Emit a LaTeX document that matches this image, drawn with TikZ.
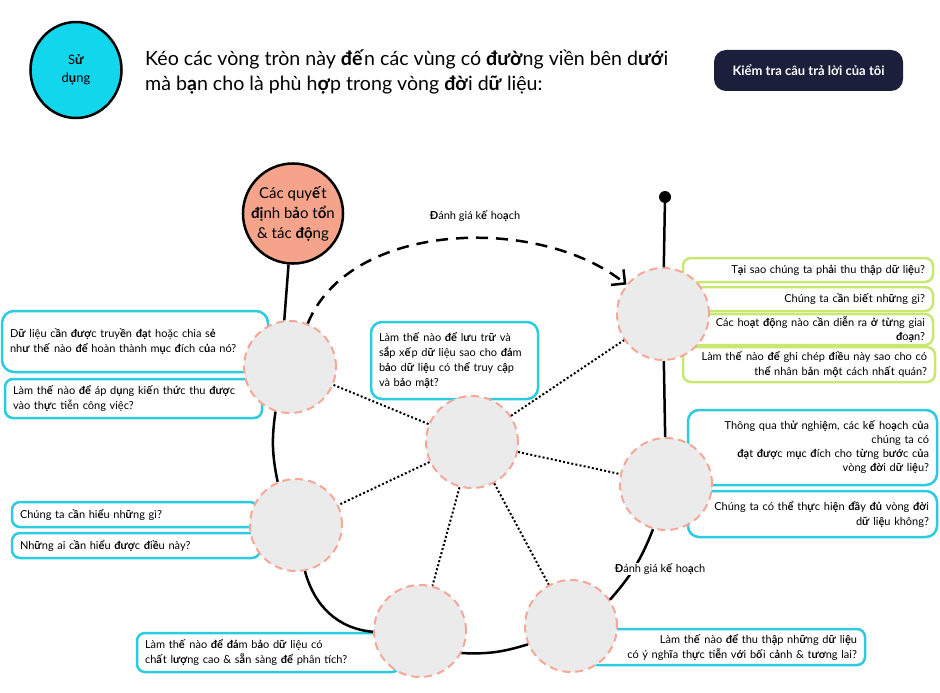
\documentclass[tikz,border=0pt]{standalone}
\usepackage{fontspec}
\setmainfont{Lato}
\usetikzlibrary{shapes.geometric,arrows.meta}
\definecolor{usecyan}{HTML}{12D6EC}
\definecolor{boxcyan}{HTML}{2CCBE0}
\definecolor{boxlime}{HTML}{C8E872}
\definecolor{impactfill}{HTML}{F5A48B}
\definecolor{slotrim}{HTML}{F5A898}
\definecolor{slotgray}{HTML}{EBEBEB}
\definecolor{navy}{HTML}{1B1F3B}
\newcommand\bd[1]{\textbf{#1}}

\begin{document}
\begin{tikzpicture}[x=1pt, y=-1pt,
    qbox/.style={draw=boxcyan, line width=2.5pt, rounded corners=8pt, fill=white, inner xsep=8pt, inner ysep=0pt, font=\fontsize{11}{15}\selectfont},
    gbox/.style={qbox, draw=boxlime},
    slot/.style={circle, draw=slotrim, fill=slotgray, minimum size=92pt, inner sep=0pt, line width=2pt, dash pattern=on 8pt off 5pt},
    loopline/.style={line width=2.5pt},
    link/.style={line width=2pt, dash pattern=on 2pt off 2.2pt},
    plan/.style={fill=white, inner sep=1pt, font=\fontsize{11}{13}\selectfont}]
    \useasboundingbox (0,0) rectangle (940,693);
    % header
    \node[ellipse, draw, line width=2.5pt, fill=usecyan, minimum width=91pt, minimum height=96pt, align=center, font=\fontsize{13}{18}\selectfont] (use) at (76,70) {S\bd{ử}\\d\bd{ụ}ng};
    \node[anchor=west, align=left, inner sep=0pt, font=\fontsize{19.6}{25}\selectfont] (heading) at (145,72) {Kéo các vòng tròn này \bd{đế}n các vùng có \bd{đườ}ng viền bên d\bd{ướ}i\\mà b\bd{ạ}n cho là phù h\bd{ợ}p trong vòng \bd{đờ}i d\bd{ữ} liệu:};
    \node[fill=navy, rounded corners=12pt, minimum width=189pt, minimum height=41pt, text=white, font=\fontsize{13}{15}\selectfont\bfseries] (check) at (808.5,70.5) {Kiểm tra câu trả lời của tôi};
    % question boxes
    \node[qbox, rounded corners=12pt, text width=250pt, minimum height=61pt, align=left] (qShare) at (135,341.5) {D\bd{ữ} liệu c\bd{ầ}n \bd{đượ}c truy\bd{ề}n \bd{đạ}t hoặc chia s\bd{ẻ}\\nh\bd{ư} th\bd{ế} nào \bd{để} hoàn thành m\bd{ụ}c \bd{đ}ích c\bd{ủ}a nó?};
    \node[qbox, text width=241pt, minimum height=39pt, align=left] (qApply) at (133.5,398.5) {Làm th\bd{ế} nào \bd{để} áp d\bd{ụ}ng ki\bd{ế}n th\bd{ứ}c thu \bd{đượ}c\\vào th\bd{ự}c tiễn công việc?};
    \node[qbox, text width=230pt, minimum height=25pt, align=left] (qNeed) at (135,514.5) {Chúng ta c\bd{ầ}n hi\bd{ể}u nh\bd{ữ}ng gì?};
    \node[qbox, text width=232pt, minimum height=25pt, align=left] (qWho) at (136,545.5) {Nh\bd{ữ}ng ai c\bd{ầ}n hi\bd{ể}u \bd{đượ}c \bd{đ}i\bd{ề}u này?};
    \node[qbox, text width=247pt, minimum height=39pt, align=left] (qQuality) at (268.5,652.5) {Làm th\bd{ế} nào \bd{để} \bd{đả}m b\bd{ả}o d\bd{ữ} liệu có\\ch\bd{ấ}t l\bd{ượ}ng cao \& s\bd{ẵ}n sàng \bd{để} phân tích?};
    \node[qbox, text width=259pt, minimum height=36pt, align=right] (qGather) at (727.5,647) {Làm th\bd{ế} nào \bd{để} thu th\bd{ậ}p nh\bd{ữ}ng d\bd{ữ} li\bd{ệ}u\\có ý ngh\bd{ĩ}a th\bd{ự}c ti\bd{ễ}n v\bd{ớ}i b\bd{ố}i c\bd{ả}nh \& t\bd{ươ}ng lai?};
    \node[qbox, rounded corners=11pt, text width=151pt, minimum height=77pt, align=left] (qStore) at (454.5,360.5) {Làm th\bd{ế} nào \bd{để} l\bd{ư}u tr\bd{ữ} và\\s\bd{ắ}p x\bd{ế}p d\bd{ữ} liệu sao cho \bd{đả}m\\b\bd{ả}o d\bd{ữ} li\bd{ệ}u có th\bd{ể} truy c\bd{ậ}p\\và b\bd{ả}o m\bd{ậ}t?};
    \node[gbox, text width=234pt, minimum height=24pt, align=right] (qWhy) at (808,270) {T\bd{ạ}i sao chúng ta ph\bd{ả}i thu th\bd{ậ}p d\bd{ữ} li\bd{ệ}u?};
    \node[gbox, text width=234pt, minimum height=24pt, align=right] (qKnow) at (808,299) {Chúng ta c\bd{ầ}n bi\bd{ế}t nh\bd{ữ}ng gì?};
    \node[gbox, text width=234pt, minimum height=31pt, align=right, font=\fontsize{11}{13.5}\selectfont] (qSteps) at (808,329.5) {Các ho\bd{ạ}t \bd{độ}ng nào c\bd{ầ}n di\bd{ễ}n ra \bd{ở} t\bd{ừ}ng giai\\\bd{đ}o\bd{ạ}n?};
    \node[gbox, text width=236pt, minimum height=35pt, align=right] (qRecord) at (809,364.5) {Làm th\bd{ế} nào \bd{để} ghi chép \bd{đ}i\bd{ề}u này sao cho có\\th\bd{ể} nhân b\bd{ả}n m\bd{ộ}t cách nh\bd{ấ}t quán?};
    \node[qbox, rounded corners=11pt, text width=233pt, minimum height=75pt, align=right, font=\fontsize{11}{14}\selectfont] (qTest) at (812.5,447.5) {Thông qua th\bd{ử} nghi\bd{ệ}m, các k\bd{ế} ho\bd{ạ}ch c\bd{ủ}a\\chúng ta có\\\bd{đạ}t \bd{đượ}c m\bd{ụ}c \bd{đ}ích cho t\bd{ừ}ng b\bd{ướ}c c\bd{ủ}a\\vòng \bd{đờ}i d\bd{ữ} li\bd{ệ}u?};
    \node[qbox, rounded corners=11pt, text width=233pt, minimum height=46pt, align=right] (qFull) at (812.5,514) {Chúng ta có th\bd{ể} th\bd{ự}c hi\bd{ệ}n \bd{đầ}y \bd{đủ} vòng \bd{đờ}i\\d\bd{ữ} li\bd{ệ}u không?};
    % lifecycle circles
    \node[circle, draw, line width=2.5pt, fill=impactfill, minimum size=98pt, inner sep=0pt, align=center, font=\fontsize{15}{20}\selectfont] (impact) at (293,213.5) {Các quy\bd{ế}t\\\bd{đị}nh b\bd{ả}o t\bd{ổ}n\\\& tác \bd{độ}ng};
    \node[slot] (share) at (290,367) {};
    \node[slot] (understand) at (296,525) {};
    \node[slot] (quality) at (420,631) {};
    \node[slot] (gather) at (571,626) {};
    \node[slot] (test) at (666,484) {};
    \node[slot] (plan) at (663,314) {};
    \node[slot] (store) at (472,442) {};
    \node[circle, fill=black, minimum size=12pt, inner sep=0pt] (start) at (665,197) {};
    % connectors
    \draw[loopline] (impact.265) -- (share.97);
    \draw[loopline] (share.252) to[bend right=10] (understand.113);
    \draw[loopline] (understand.281) to[out=-75, in=175] (quality.181);
    \draw[loopline] (quality.332) to[bend right=10] (gather.203);
    \draw[loopline] (gather.34) to[bend right=10] (test.254);
    \draw[loopline] (test) -- (plan);
    \draw[loopline] (start) -- (plan);
    \draw[loopline, dash pattern=on 12pt off 8pt, -{Straight Barb[length=10pt, width=20pt, line width=2.5pt]}] (share) .. controls (350,220) and (540,215) .. (plan);
    \foreach \slot in {share, understand, quality, gather, test, plan}
        \draw[link] (store) -- (\slot);
    \node[plan] (planTop) at (475,216) {\bd{Đ}ánh giá k\bd{ế} ho\bd{ạ}ch};
    \node[plan] (planLow) at (660,569) {\bd{Đ}ánh giá k\bd{ế} ho\bd{ạ}ch};
\end{tikzpicture}
\end{document}
